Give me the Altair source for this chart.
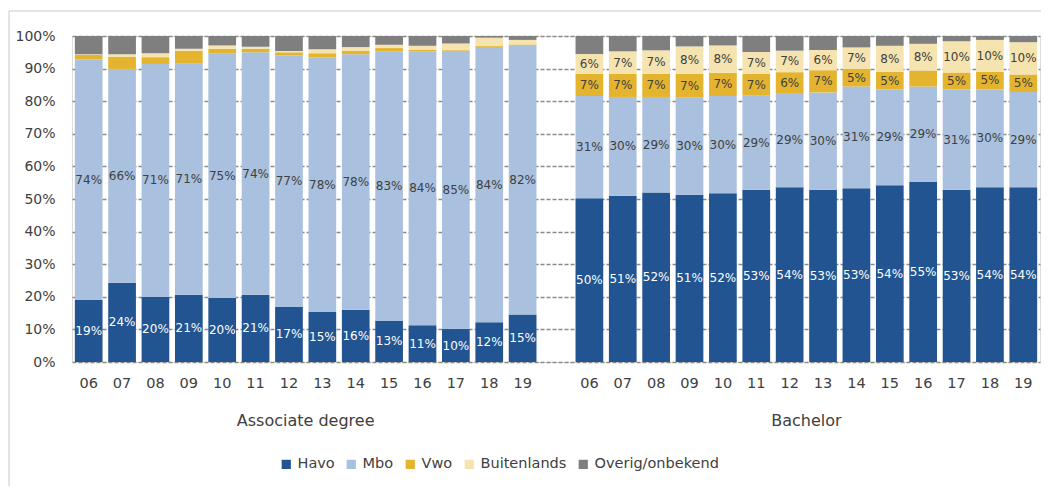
import altair as alt
import pandas as pd

years = ["06", "07", "08", "09", "10", "11", "12", "13", "14", "15", "16", "17", "18", "19"]
sources = ["Havo", "Mbo", "Vwo", "Buitenlands", "Overig/onbekend"]
colors = ["#215490", "#a9c1df", "#e5b42f", "#f5e4b0", "#7f7f7f"]
group_names = ["Associate degree", "Bachelor"]

# Associate degree (percent)
ad_havo = [19.0, 24.3, 20.0, 20.6, 19.6, 20.6, 16.9, 15.3, 16.0, 12.6, 11.3, 10.1, 12.2, 14.6]
ad_mbo = [73.9, 65.6, 71.4, 70.9, 75.0, 74.4, 77.2, 78.1, 78.4, 82.7, 84.0, 85.4, 84.4, 82.4]
ad_vwo = [1.3, 3.7, 2.1, 4.0, 1.5, 1.1, 0.9, 1.3, 1.0, 1.0, 0.4, 0.3, 0.3, 0.4]
ad_buit = [0.2, 0.8, 1.2, 0.6, 1.0, 0.6, 0.4, 1.2, 1.2, 1.0, 1.3, 1.9, 2.6, 1.4]
ad_overig = [5.6, 5.6, 5.3, 3.9, 2.9, 3.3, 4.6, 4.1, 3.4, 2.7, 3.0, 2.3, 0.5, 1.2]

# Bachelor (percent)
ba_havo = [50.2, 51.0, 52.0, 51.3, 51.8, 52.8, 53.6, 52.8, 53.3, 54.2, 55.2, 52.8, 53.6, 53.6]
ba_mbo = [31.4, 30.3, 29.3, 29.8, 29.8, 29.0, 28.9, 29.9, 31.2, 29.4, 29.3, 30.8, 30.1, 29.2]
ba_vwo = [6.8, 7.1, 7.1, 7.3, 7.1, 6.6, 6.4, 6.8, 5.4, 5.4, 4.9, 5.2, 5.3, 5.4]
ba_buit = [6.1, 6.9, 7.2, 8.4, 8.4, 6.7, 6.6, 6.2, 6.6, 8.0, 8.2, 9.6, 9.8, 9.9]
ba_overig = [5.5, 4.7, 4.4, 3.2, 2.9, 4.9, 4.5, 4.3, 3.5, 3.0, 2.4, 1.6, 1.2, 1.9]

groups = [
    ("A", [ad_havo, ad_mbo, ad_vwo, ad_buit, ad_overig]),
    ("B", [ba_havo, ba_mbo, ba_vwo, ba_buit, ba_overig]),
]

rows = []
for prefix, series in groups:
    for i, yr in enumerate(years):
        for k, s in enumerate(sources):
            rows.append({"cat": prefix + yr, "source": s, "order": k, "value": series[k][i]})
df = pd.DataFrame(rows)

cats = ["A" + y for y in years] + ["gap"] + ["B" + y for y in years]

W, H = 968, 326
step = W / len(cats)
txt = "#404040"
font = "DejaVu Sans"

xaxis = alt.Axis(
    title=None, labelAngle=0, ticks=False, domain=False, labelPadding=14,
    labelFontSize=14.5, labelColor=txt, labelFont=font,
    labelExpr="datum.value == 'gap' ? '' : substring(datum.value, 1)",
)
xscale = alt.Scale(domain=cats, paddingInner=0.17, paddingOuter=0.085)
xenc = alt.X("cat:N", sort=cats, scale=xscale, axis=xaxis)

yaxis = alt.Axis(
    title=None, values=list(range(0, 101, 10)),
    labelExpr="datum.value + '%'", labelOverlap=False,
    grid=True, gridDash=[4, 2], gridColor="#8a8a8a", gridWidth=1.4,
    domain=False, ticks=False, labelPadding=17, labelFontSize=14,
    labelColor=txt, labelFont=font,
)
yscale = alt.Scale(domain=[0, 100], nice=False)

base = alt.Chart(df).transform_stack(
    stack="value", groupby=["cat"], sort=[alt.SortField("order", order="ascending")], as_=["v0", "v1"]
).transform_calculate(
    mid="(datum.v0 + datum.v1) / 2",
    label="round(datum.value) + '%'",
)

bars = base.mark_bar().encode(
    x=xenc,
    y=alt.Y("v0:Q", scale=yscale, axis=yaxis),
    y2="v1:Q",
    color=alt.Color(
        "source:N",
        scale=alt.Scale(domain=sources, range=colors),
        legend=alt.Legend(
            title=None, orient="none", legendX=207, legendY=421, direction="horizontal",
            symbolType="square", symbolSize=85, symbolStrokeWidth=0,
            labelFontSize=14.5, labelColor=txt, labelFont=font, columnPadding=9,
            symbolOffset=0, labelOffset=4,
        ),
    ),
)

labels = base.transform_filter(
    "datum.value >= 5 && datum.source != 'Overig/onbekend'"
).mark_text(fontSize=12, font=font, baseline="middle").encode(
    x=xenc,
    y=alt.Y("mid:Q", scale=yscale, axis=yaxis),
    text="label:N",
    color=alt.when(alt.datum.source == "Havo").then(alt.value("white")).otherwise(alt.value(txt)),
)

group_df = pd.DataFrame({"cat": ["A12", "B12"], "label": group_names})
group_labels = alt.Chart(group_df).mark_text(
    fontSize=16, font=font, color=txt, baseline="middle", dx=step / 2
).encode(x=xenc, y=alt.value(H + 59), text="label:N")

frame = alt.Chart(pd.DataFrame({"f": [0]})).mark_rect(
    fillOpacity=0, stroke="#c8c8c8", strokeWidth=1
).encode(
    x=alt.value(-63), x2=alt.value(W + 60), y=alt.value(-25), y2=alt.value(H + 300)
)

chart = alt.layer(frame, bars, labels, group_labels).properties(
    width=W, height=H,
    autosize=alt.AutoSizeParams(type="none"),
    padding={"left": 64, "top": 28, "right": 1, "bottom": 124},
).configure_view(strokeWidth=0).configure(font=font)

chart.save("out.html", embed_options={"renderer": "svg", "actions": False})
